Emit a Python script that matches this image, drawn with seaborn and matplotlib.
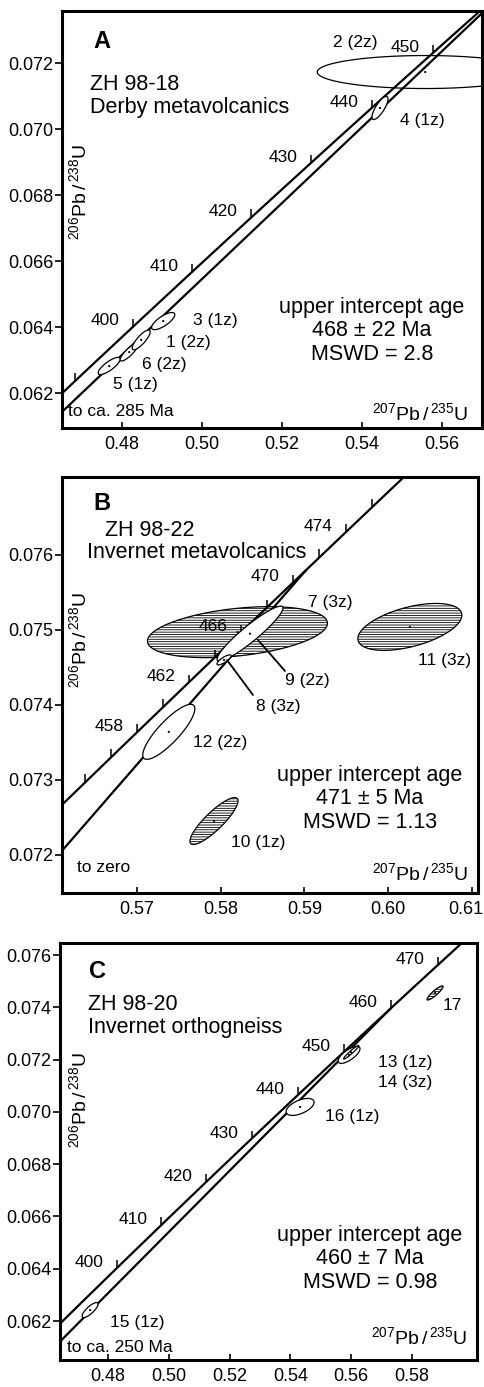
#!/usr/bin/env python3
"""U-Pb concordia diagrams for three samples (ZH 98-18, ZH 98-22, ZH 98-20)."""

import numpy as np
import pandas as pd
import matplotlib
matplotlib.use("Agg")
import matplotlib.pyplot as plt
import matplotlib.transforms as mtransforms
import seaborn as sns

# decay constants, 1/yr
LAMBDA_238 = 1.55125e-10
LAMBDA_235 = 9.8485e-10

# ---- A: ZH 98-18, Derby metavolcanics
a_names = ["5 (1z)", "6 (2z)", "1 (2z)", "3 (1z)", "4 (1z)", "2 (2z)"]
a_x = [0.4768, 0.4818, 0.4848, 0.4903, 0.5445, 0.5558]
a_y = [0.06282, 0.06324, 0.06361, 0.06418, 0.07064, 0.07173]
a_sx = [0.00275, 0.00225, 0.00225, 0.0029, 0.0020, 0.0270]
a_sy = [0.00026, 0.00027, 0.00030, 0.00026, 0.00035, 0.00050]
a_rho = [0.8, 0.85, 0.82, 0.75, 0.78, 0.0]
a_ticks = [390, 400, 410, 420, 430, 440, 450]
a_tick_labels = [400, 410, 420, 430, 440, 450]
a_intercepts = [285, 468]
a_xticks = [0.48, 0.50, 0.52, 0.54, 0.56]
a_yticks = [0.062, 0.064, 0.066, 0.068, 0.070, 0.072]
a_sample = ["ZH 98-18", "Derby metavolcanics"]
a_result = ["upper intercept age", "468 ± 22 Ma", "MSWD = 2.8"]
a_end = "to ca. 285 Ma"

# ---- B: ZH 98-22, Invernet metavolcanics
b_names = ["7 (3z)", "9 (2z)", "8 (3z)", "11 (3z)", "12 (2z)", "10 (1z)"]
b_x = [0.5820, 0.5835, 0.5804, 0.6026, 0.5738, 0.5792]
b_y = [0.07497, 0.07495, 0.07460, 0.07504, 0.07364, 0.07245]
b_sx = [0.01075, 0.00394, 0.00084, 0.00621, 0.00311, 0.00287]
b_sy = [0.00034, 0.000367, 0.000067, 0.000313, 0.000367, 0.000313]
b_rho = [0.35, 0.93, 0.8, 0.5, 0.84, 0.86]
b_ticks = [454, 456, 458, 460, 462, 464, 466, 468, 470, 472, 474, 476]
b_tick_labels = [458, 462, 466, 470, 474]
b_intercepts = [0, 471]
b_xticks = [0.57, 0.58, 0.59, 0.60, 0.61]
b_yticks = [0.072, 0.073, 0.074, 0.075, 0.076]
b_sample = ["ZH 98-22", "Invernet metavolcanics"]
b_result = ["upper intercept age", "471 ± 5 Ma", "MSWD = 1.13"]
b_end = "to zero"

# ---- C: ZH 98-20, Invernet orthogneiss
c_names = ["17", "13 (1z)", "14 (3z)", "16 (1z)", "15 (1z)"]
c_x = [0.5876, 0.5593, 0.5600, 0.5432, 0.4741]
c_y = [0.07455, 0.07218, 0.07228, 0.07019, 0.06242]
c_sx = [0.00263, 0.0036, 0.0025, 0.0046, 0.00263]
c_sy = [0.00027, 0.000325, 0.00026, 0.000325, 0.000287]
c_rho = [0.9, 0.72, 0.96, 0.55, 0.8]
c_ticks = [400, 410, 420, 430, 440, 450, 460, 470]
c_tick_labels = [400, 410, 420, 430, 440, 450, 460, 470]
c_intercepts = [250, 460]
c_xticks = [0.48, 0.50, 0.52, 0.54, 0.56, 0.58]
c_yticks = [0.062, 0.064, 0.066, 0.068, 0.070, 0.072, 0.074, 0.076]
c_sample = ["ZH 98-20", "Invernet orthogneiss"]
c_result = ["upper intercept age", "460 ± 7 Ma", "MSWD = 0.98"]
c_end = "to ca. 250 Ma"

HATCHED = {"7 (3z)", "11 (3z)", "10 (1z)", "17"}
OPEN = {"2 (2z)", "7 (3z)"}

W, H = 485, 1387

# pixel layout of the original figure
LAYOUT = {
    "A": dict(box=(62, 11, 482, 428), xlim=(0.465, 0.570), ylim=(0.06094, 0.07358),
              letter=(102, 41), sample=(90, 85), result=(372, 307),
              end=(68, 411), ratio=(468, 413), ylab=(79, 192),
              labels={"5 (1z)": (135, 385), "6 (2z)": (164, 365), "1 (2z)": (188, 343),
                      "3 (1z)": (215, 320), "4 (1z)": (422, 120), "2 (2z)": (355, 43)},
              leaders={}),
    "B": dict(box=(62, 477, 478, 893), xlim=(0.56104, 0.61074), ylim=(0.07149, 0.07704),
              letter=(102, 503), sample=(87, 530), sample_indent=18,
              result=(370, 775), end=(77, 868), ratio=(468, 873), ylab=(79, 640),
              labels={"7 (3z)": (330, 603), "9 (2z)": (307, 680), "8 (3z)": (278, 707),
                      "11 (3z)": (445, 660), "12 (2z)": (220, 742), "10 (1z)": (258, 843)},
              leaders={"9 (2z)": ((258, 640), (285, 671)), "8 (3z)": ((227, 660), (253, 695))}),
    "C": dict(box=(60, 943, 477, 1360), xlim=(0.4642, 0.6014), ylim=(0.06051, 0.07646),
              letter=(97, 972), sample=(88, 1005), result=(370, 1235),
              end=(67, 1347), ratio=(467, 1337), ylab=(79, 1100),
              labels={"17": (452, 1005), "13 (1z)": (405, 1063), "14 (3z)": (405, 1082),
                      "16 (1z)": (352, 1117), "15 (1z)": (137, 1322)},
              leaders={}),
}

DATA = {
    "A": dict(names=a_names, x=a_x, y=a_y, sx=a_sx, sy=a_sy, rho=a_rho, ticks=a_ticks,
              tick_labels=a_tick_labels, intercepts=a_intercepts, xticks=a_xticks,
              yticks=a_yticks, sample=a_sample, result=a_result, end=a_end),
    "B": dict(names=b_names, x=b_x, y=b_y, sx=b_sx, sy=b_sy, rho=b_rho, ticks=b_ticks,
              tick_labels=b_tick_labels, intercepts=b_intercepts, xticks=b_xticks,
              yticks=b_yticks, sample=b_sample, result=b_result, end=b_end),
    "C": dict(names=c_names, x=c_x, y=c_y, sx=c_sx, sy=c_sy, rho=c_rho, ticks=c_ticks,
              tick_labels=c_tick_labels, intercepts=c_intercepts, xticks=c_xticks,
              yticks=c_yticks, sample=c_sample, result=c_result, end=c_end),
}


def ratios(age_ma):
    """207Pb/235U a 206Pb/238U pro stari v Ma"""
    t = np.asarray(age_ma, dtype=float) * 1e6
    return np.exp(LAMBDA_235 * t) - 1, np.exp(LAMBDA_238 * t) - 1


def ellipse_xy(cx, cy, sx, sy, rho, n=160):
    t = np.linspace(0, 2 * np.pi, n)
    x = cx + sx * np.cos(t)
    y = cy + sy * (rho * np.cos(t) + np.sqrt(1 - rho ** 2) * np.sin(t))
    return x, y


def draw_panel(fig, key):
    d, lay = DATA[key], LAYOUT[key]
    l, t, r, b = lay["box"]
    ax = fig.add_axes([l / W, 1 - b / H, (r - l) / W, (b - t) / H])

    def at(px, py):
        return (px - l) / (r - l), (b - py) / (b - t)

    # concordia
    ages = np.linspace(360, 490, 600)
    cx, cy = ratios(ages)
    conc = pd.DataFrame({"x": cx, "y": cy})
    sns.lineplot(data=conc, x="x", y="y", ax=ax, color="black", lw=1.6,
                 sort=False, estimator=None, zorder=2)

    # discordia between the intercepts
    ix, iy = ratios(d["intercepts"])
    disc = pd.DataFrame({"x": ix, "y": iy})
    sns.lineplot(data=disc, x="x", y="y", ax=ax, color="black", lw=1.6,
                 sort=False, estimator=None, zorder=2)

    # age ticks on concordia
    tx, ty = ratios(d["ticks"])
    ax.plot(tx, ty, ls="none", marker=2, ms=6, mew=1.1, color="black", zorder=2)
    lx, ly = ratios(d["tick_labels"])
    for age, x0, y0 in zip(d["tick_labels"], lx, ly):
        ax.annotate(str(age), (x0, y0), xytext=(-20, 4), textcoords="offset points",
                    ha="center", va="center", fontsize=12.5, zorder=6)

    # error ellipses
    for name, x0, y0, sx, sy, rho in zip(d["names"], d["x"], d["y"], d["sx"], d["sy"], d["rho"]):
        ex, ey = ellipse_xy(x0, y0, sx, sy, rho)
        face = "none" if name in OPEN else "white"
        z = 1.5 if name == "7 (3z)" else (1.8 if name in OPEN else 3)
        ax.fill(ex, ey, facecolor=face, edgecolor="black", lw=0.9,
                hatch="-------" if name in HATCHED else None, zorder=z)
    sns.scatterplot(x=d["x"], y=d["y"], ax=ax, s=2.5, color="black", edgecolor="none",
                    zorder=4, legend=False)

    # ellipse labels
    for name in d["names"]:
        px, py = lay["labels"][name]
        ax.text(*at(px, py), name, transform=ax.transAxes, ha="center", va="center",
                fontsize=12.5, zorder=6)
    for (p0, p1) in lay["leaders"].values():
        a0, a1 = at(*p0), at(*p1)
        ax.plot([a0[0], a1[0]], [a0[1], a1[1]], transform=ax.transAxes,
                color="black", lw=1.3, zorder=5)

    # texts
    ax.text(*at(*lay["letter"]), key, transform=ax.transAxes, ha="center", va="center",
            fontsize=17, fontweight="bold")
    sx_, sy_ = lay["sample"]
    ax.text(*at(sx_ + lay.get("sample_indent", 0), sy_), d["sample"][0],
            transform=ax.transAxes, ha="left", va="center", fontsize=15.5)
    ax.text(*at(sx_, sy_ + 22), d["sample"][1], transform=ax.transAxes,
            ha="left", va="center", fontsize=15.5)
    rx, ry = lay["result"]
    for i, line in enumerate(d["result"]):
        ax.text(*at(rx, ry + 23.5 * i), line, transform=ax.transAxes,
                ha="center", va="center", fontsize=15.5)
    ax.text(*at(*lay["end"]), d["end"], transform=ax.transAxes, ha="left",
            va="center", fontsize=12.5)
    ax.text(*at(*lay["ratio"]), r"$^{207}$Pb$\,/\,^{235}$U", transform=ax.transAxes,
            ha="right", va="center", fontsize=14)
    ax.text(*at(*lay["ylab"]), r"$^{206}$Pb$\,/\,^{238}$U", transform=ax.transAxes,
            ha="center", va="center", fontsize=14, rotation=90)

    # axes
    ax.set_xlim(*lay["xlim"])
    ax.set_ylim(*lay["ylim"])
    ax.set_xticks(d["xticks"])
    ax.set_xticklabels(["{:.2f}".format(v) for v in d["xticks"]])
    ax.set_yticks(d["yticks"])
    ax.set_yticklabels(["{:.3f}".format(v) for v in d["yticks"]])
    ax.set_xlabel("")
    ax.set_ylabel("")
    ax.tick_params(axis="x", direction="in", length=4, width=1.2, pad=6, labelsize=13,
                   colors="black")
    ax.tick_params(axis="y", direction="out", length=5, width=1.2, pad=1, labelsize=13,
                   colors="black")
    for s in ax.spines.values():
        s.set_visible(True)
        s.set_linewidth(2.2)
        s.set_color("black")
    return ax


if __name__ == "__main__":
    sns.set_theme(style="ticks")
    plt.rcParams["font.family"] = ["Liberation Sans", "DejaVu Sans"]
    plt.rcParams["text.color"] = "black"
    plt.rcParams["mathtext.fontset"] = "custom"
    plt.rcParams["mathtext.rm"] = "Liberation Sans"
    plt.rcParams["mathtext.it"] = "Liberation Sans:italic"
    plt.rcParams["mathtext.bf"] = "Liberation Sans:bold"
    plt.rcParams["hatch.linewidth"] = 0.6
    plt.rcParams["hatch.color"] = "black"

    fig = plt.figure(figsize=(W / 100, H / 100), dpi=100)
    axes = [draw_panel(fig, key) for key in ["A", "B", "C"]]

    # last tick label of B sits right at the figure edge
    fig.canvas.draw()
    last = axes[1].get_xticklabels()[-1]
    last.set_transform(last.get_transform()
                       + mtransforms.ScaledTranslation(-4 / 72, 0, fig.dpi_scale_trans))
    fig.savefig("out.png", dpi=100, facecolor="white")
